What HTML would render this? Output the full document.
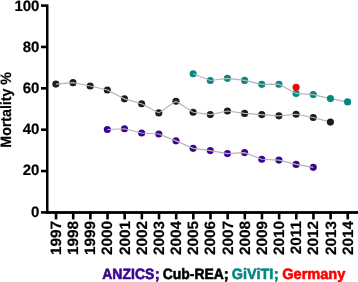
<!DOCTYPE html>
<html lang="en">
<head>
<meta charset="utf-8">
<title>Mortality % by year: ANZICS, Cub-REA, GiViTI, Germany</title>
<style>
html, body { margin: 0; padding: 0; background: #fff; width: 358px; height: 282px; overflow: hidden; }
svg { display: block; will-change: transform; }
text { font-family: "Liberation Sans", sans-serif; font-weight: bold; font-size: 15px; text-rendering: geometricPrecision;
        stroke-width: 0.2px; stroke-linejoin: round; }
.k { fill: #000; stroke: #000; }
.p { fill: #3b0590; stroke: #3b0590; }
.t { fill: #038782; stroke: #038782; }
.r { fill: #ff0000; stroke: #ff0000; }
.lg { stroke-width: 0.6px; }
</style>
</head>
<body>
<svg width="358" height="282" viewBox="0 0 358 282">
<!-- axes -->
<rect x="46" y="4.4" width="2.5" height="209" fill="#000"/>
<rect x="46" y="211.1" width="312" height="2.8" fill="#000"/>
<rect x="41" y="4.30" width="5.5" height="2.6" fill="#000"/>
<text class="k" x="14.39" y="10.60">100</text>
<rect x="41" y="45.66" width="5.5" height="2.6" fill="#000"/>
<text class="k" x="22.73" y="52.00">80</text>
<rect x="41" y="87.02" width="5.5" height="2.6" fill="#000"/>
<text class="k" x="22.73" y="93.00">60</text>
<rect x="41" y="128.38" width="5.5" height="2.6" fill="#000"/>
<text class="k" x="22.73" y="134.30">40</text>
<rect x="41" y="169.74" width="5.5" height="2.6" fill="#000"/>
<text class="k" x="22.73" y="175.40">20</text>
<rect x="41" y="211.10" width="5.5" height="2.6" fill="#000"/>
<text class="k" x="31.07" y="217.40">0</text>
<rect x="54.75" y="212" width="2.6" height="7.4" fill="#000"/>
<text class="k" text-anchor="end" transform="translate(61.01,220.90) rotate(-90) scale(1.025,1)">1997</text>
<rect x="71.91" y="212" width="2.6" height="7.4" fill="#000"/>
<text class="k" text-anchor="end" transform="translate(78.17,220.90) rotate(-90) scale(1.025,1)">1998</text>
<rect x="89.07" y="212" width="2.6" height="7.4" fill="#000"/>
<text class="k" text-anchor="end" transform="translate(95.33,220.90) rotate(-90) scale(1.025,1)">1999</text>
<rect x="106.23" y="212" width="2.6" height="7.4" fill="#000"/>
<text class="k" text-anchor="end" transform="translate(112.49,220.90) rotate(-90) scale(1.025,1)">2000</text>
<rect x="123.39" y="212" width="2.6" height="7.4" fill="#000"/>
<text class="k" text-anchor="end" transform="translate(129.65,220.90) rotate(-90) scale(1.025,1)">2001</text>
<rect x="140.55" y="212" width="2.6" height="7.4" fill="#000"/>
<text class="k" text-anchor="end" transform="translate(146.81,220.90) rotate(-90) scale(1.025,1)">2002</text>
<rect x="157.71" y="212" width="2.6" height="7.4" fill="#000"/>
<text class="k" text-anchor="end" transform="translate(163.97,220.90) rotate(-90) scale(1.025,1)">2003</text>
<rect x="174.87" y="212" width="2.6" height="7.4" fill="#000"/>
<text class="k" text-anchor="end" transform="translate(181.13,220.90) rotate(-90) scale(1.025,1)">2004</text>
<rect x="192.03" y="212" width="2.6" height="7.4" fill="#000"/>
<text class="k" text-anchor="end" transform="translate(198.29,220.90) rotate(-90) scale(1.025,1)">2005</text>
<rect x="209.19" y="212" width="2.6" height="7.4" fill="#000"/>
<text class="k" text-anchor="end" transform="translate(215.45,220.90) rotate(-90) scale(1.025,1)">2006</text>
<rect x="226.35" y="212" width="2.6" height="7.4" fill="#000"/>
<text class="k" text-anchor="end" transform="translate(232.61,220.90) rotate(-90) scale(1.025,1)">2007</text>
<rect x="243.51" y="212" width="2.6" height="7.4" fill="#000"/>
<text class="k" text-anchor="end" transform="translate(249.77,220.90) rotate(-90) scale(1.025,1)">2008</text>
<rect x="260.67" y="212" width="2.6" height="7.4" fill="#000"/>
<text class="k" text-anchor="end" transform="translate(266.93,220.90) rotate(-90) scale(1.025,1)">2009</text>
<rect x="277.83" y="212" width="2.6" height="7.4" fill="#000"/>
<text class="k" text-anchor="end" transform="translate(284.09,220.90) rotate(-90) scale(1.025,1)">2010</text>
<rect x="294.99" y="212" width="2.6" height="7.4" fill="#000"/>
<text class="k" text-anchor="end" transform="translate(301.25,220.90) rotate(-90) scale(1.025,1)">2011</text>
<rect x="312.15" y="212" width="2.6" height="7.4" fill="#000"/>
<text class="k" text-anchor="end" transform="translate(318.41,220.90) rotate(-90) scale(1.025,1)">2012</text>
<rect x="329.31" y="212" width="2.6" height="7.4" fill="#000"/>
<text class="k" text-anchor="end" transform="translate(335.57,220.90) rotate(-90) scale(1.025,1)">2013</text>
<rect x="346.47" y="212" width="2.6" height="7.4" fill="#000"/>
<text class="k" text-anchor="end" transform="translate(352.73,220.90) rotate(-90) scale(1.025,1)">2014</text>
<text class="k" transform="translate(10.85,146.70) rotate(-90) scale(0.9439,1) translate(-1.00,0)">Mortality %</text>
<!-- series -->
<circle cx="55.85" cy="84.10" r="3.55" fill="#1c1c1c"/>
<circle cx="73.01" cy="82.65" r="3.55" fill="#1c1c1c"/>
<circle cx="90.17" cy="86.05" r="3.55" fill="#1c1c1c"/>
<circle cx="107.33" cy="89.95" r="3.55" fill="#1c1c1c"/>
<circle cx="124.49" cy="98.85" r="3.55" fill="#1c1c1c"/>
<circle cx="141.65" cy="103.70" r="3.55" fill="#1c1c1c"/>
<circle cx="158.81" cy="112.90" r="3.55" fill="#1c1c1c"/>
<circle cx="175.97" cy="101.25" r="3.55" fill="#1c1c1c"/>
<circle cx="193.13" cy="112.20" r="3.55" fill="#1c1c1c"/>
<circle cx="210.29" cy="114.60" r="3.55" fill="#1c1c1c"/>
<circle cx="227.45" cy="111.05" r="3.55" fill="#1c1c1c"/>
<circle cx="244.61" cy="113.40" r="3.55" fill="#1c1c1c"/>
<circle cx="261.77" cy="114.60" r="3.55" fill="#1c1c1c"/>
<circle cx="278.93" cy="115.85" r="3.55" fill="#1c1c1c"/>
<circle cx="296.09" cy="114.25" r="3.55" fill="#1c1c1c"/>
<circle cx="313.25" cy="117.50" r="3.55" fill="#1c1c1c"/>
<circle cx="193.13" cy="73.70" r="3.55" fill="#038782"/>
<circle cx="210.29" cy="80.50" r="3.55" fill="#038782"/>
<circle cx="227.45" cy="78.35" r="3.55" fill="#038782"/>
<circle cx="244.61" cy="80.40" r="3.55" fill="#038782"/>
<circle cx="261.77" cy="84.35" r="3.55" fill="#038782"/>
<circle cx="278.93" cy="84.20" r="3.55" fill="#038782"/>
<circle cx="296.09" cy="93.40" r="3.55" fill="#038782"/>
<circle cx="313.25" cy="94.60" r="3.55" fill="#038782"/>
<circle cx="107.33" cy="129.50" r="3.55" fill="#3b0590"/>
<circle cx="124.49" cy="128.75" r="3.55" fill="#3b0590"/>
<circle cx="141.65" cy="133.05" r="3.55" fill="#3b0590"/>
<circle cx="158.81" cy="133.95" r="3.55" fill="#3b0590"/>
<circle cx="175.97" cy="140.85" r="3.55" fill="#3b0590"/>
<circle cx="193.13" cy="148.35" r="3.55" fill="#3b0590"/>
<circle cx="210.29" cy="150.60" r="3.55" fill="#3b0590"/>
<circle cx="227.45" cy="153.60" r="3.55" fill="#3b0590"/>
<circle cx="244.61" cy="152.60" r="3.55" fill="#3b0590"/>
<circle cx="261.77" cy="159.20" r="3.55" fill="#3b0590"/>
<circle cx="278.93" cy="160.10" r="3.55" fill="#3b0590"/>
<circle cx="296.09" cy="164.40" r="3.55" fill="#3b0590"/>
<circle cx="313.25" cy="167.35" r="3.55" fill="#3b0590"/>
<polyline points="55.85,84.10 73.01,82.65 90.17,86.05 107.33,89.95 124.49,98.85 141.65,103.70 158.81,112.90 175.97,101.25 193.13,112.20 210.29,114.60 227.45,111.05 244.61,113.40 261.77,114.60 278.93,115.85 296.09,114.25 313.25,117.50 330.41,122.10" fill="none" stroke="#b4b4b4" stroke-width="1.15"/>
<polyline points="193.13,73.70 210.29,80.50 227.45,78.35 244.61,80.40 261.77,84.35 278.93,84.20 296.09,93.40 313.25,94.60 330.41,98.60 347.57,101.90" fill="none" stroke="#b4b4b4" stroke-width="1.15"/>
<polyline points="107.33,129.50 124.49,128.75 141.65,133.05 158.81,133.95 175.97,140.85 193.13,148.35 210.29,150.60 227.45,153.60 244.61,152.60 261.77,159.20 278.93,160.10 296.09,164.40 313.25,167.35" fill="none" stroke="#b4b4b4" stroke-width="1.15"/>
<circle cx="330.41" cy="122.10" r="3.55" fill="#1c1c1c"/>
<circle cx="330.41" cy="98.60" r="3.55" fill="#038782"/>
<circle cx="347.57" cy="101.90" r="3.55" fill="#038782"/>
<circle cx="296.09" cy="87.30" r="3.55" fill="#ff0000"/>
<!-- legend -->
<text class="p lg" transform="translate(102.25,278.80) scale(0.9331,1)">ANZICS</text>
<text class="p lg" transform="translate(154.80,278.80)">;</text>
<text class="k lg" transform="translate(162.73,278.80) scale(0.9273,1)">Cub-REA</text>
<text class="k lg" transform="translate(223.70,278.80)">;</text>
<text class="t lg" transform="translate(231.81,278.80) scale(0.9612,1)">GiViTI</text>
<text class="t lg" transform="translate(273.70,278.80)">;</text>
<text class="r lg" transform="translate(282.20,278.80) scale(0.9715,1)">Germany</text>
</svg>
</body>
</html>
